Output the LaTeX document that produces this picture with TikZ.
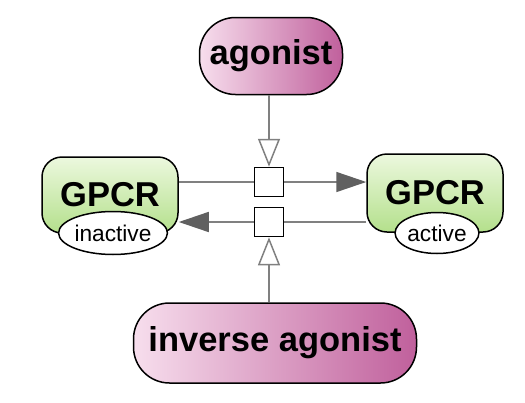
\documentclass[tikz,border=0pt]{standalone}
\usepackage{fontspec}
\setmainfont{Liberation Sans}
\usepackage{tikz}
\usetikzlibrary{shapes.geometric, arrows.meta}
\definecolor{pinklight}{RGB}{247,222,237}
\definecolor{pinkdark}{RGB}{192,96,156}
\definecolor{greenlight}{RGB}{236,248,222}
\definecolor{greendark}{RGB}{180,224,140}
\definecolor{linegray}{RGB}{128,128,128}
\definecolor{tipgray}{RGB}{96,96,96}
\tikzstyle{ligand} = [draw=black,line width=1.5pt,rounded corners=36pt,left color=pinklight,right color=pinkdark,inner sep=0pt,font=\fontsize{34.5}{40}\selectfont\bfseries]
\tikzstyle{receptor} = [draw=black,line width=1.5pt,rounded corners=20pt,top color=greenlight,bottom color=greendark,inner sep=0pt,font=\fontsize{34.5}{40}\selectfont\bfseries]
\tikzstyle{state} = [ellipse,draw=black,line width=1.5pt,fill=white,inner sep=0pt,font=\fontsize{22.7}{26}\selectfont]
\tikzstyle{process} = [draw=black,line width=1.5pt,fill=white,minimum size=29pt,inner sep=0pt]
\tikzstyle{arrow} = [linegray,line width=1.5pt,-{Triangle[length=30pt,width=20pt,fill=tipgray,color=tipgray]}]
\tikzstyle{stim} = [linegray,line width=1.5pt,-{Triangle[open,length=28pt,width=22pt,fill=white]}]

\begin{document}
\begin{tikzpicture}[x=1pt,y=-1pt]
\useasboundingbox (0,0) rectangle (525,402);
\node[ligand,minimum width=143pt,minimum height=77pt] (agonist) at (271,56) {agonist};
\node[ligand,minimum width=283pt,minimum height=80pt] (inverse) at (275,343) {inverse agonist};
\node[receptor,minimum width=136pt,minimum height=76pt] (gpcrL) at (110,195) {GPCR};
\node[receptor,minimum width=136pt,minimum height=78pt] (gpcrR) at (435,193) {GPCR};
\node[state,minimum width=100pt,minimum height=43pt] (inactive) at (113,233) {inactive};
\node[state,minimum width=79pt,minimum height=41pt] (active) at (437,233) {active};
\node[process] (sqA) at (269,182) {};
\node[process] (sqB) at (269,222) {};
\draw[linegray,line width=1.5pt] (gpcrL.east |- sqA) -- (sqA.west);
\draw[arrow] (sqA.east) -- (gpcrR.west |- sqA);
\draw[linegray,line width=1.5pt] (gpcrR.west |- sqB) -- (sqB.east);
\draw[arrow] (sqB.west) -- (gpcrL.east |- sqB);
\draw[stim] (agonist.south -| sqA) -- (sqA.north);
\draw[stim] (inverse.north -| sqB) -- (sqB.south);
\end{tikzpicture}
\end{document}
